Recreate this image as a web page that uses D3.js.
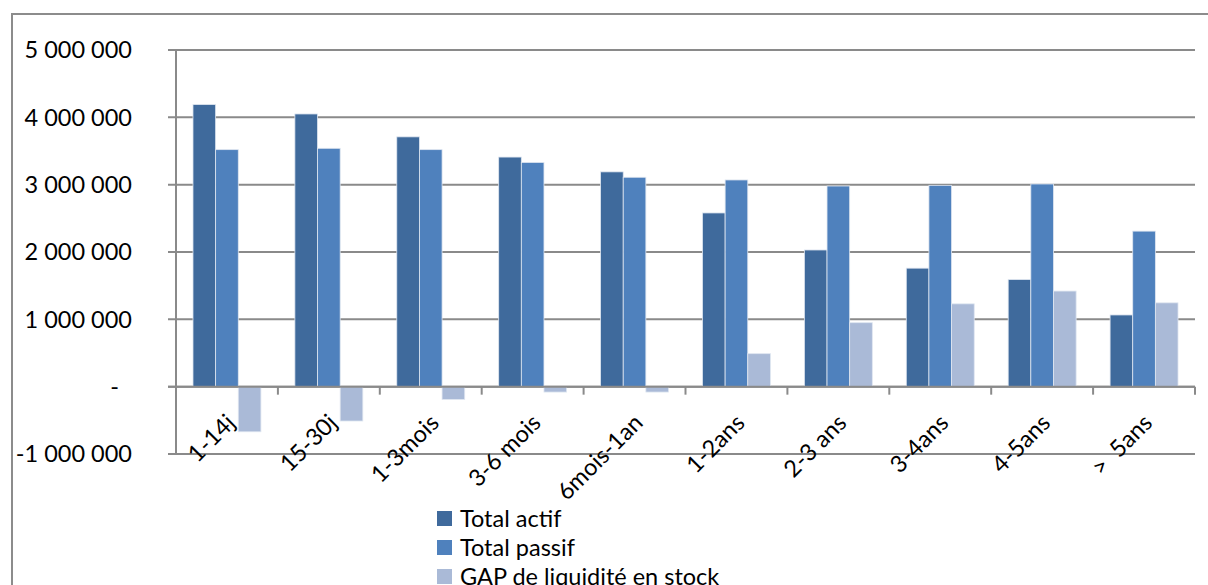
<!DOCTYPE html>
<html>
<head>
<meta charset="utf-8">
<script src="https://cdn.jsdelivr.net/npm/d3@7"></script>
<style>
  body { margin: 0; background: #fff; }
  svg { display: block; font-family: Lato, "Open Sans", sans-serif; }
</style>
</head>
<body>
<svg id="chart" width="1208" height="585"></svg>
<script>
// data
const categories = ["1-14j", "15-30j", "1-3mois", "3-6 mois", "6mois-1an", "1-2ans", "2-3 ans", "3-4ans", "4-5ans", ">  5ans"];
const totalActif = [4190000, 4050000, 3710000, 3410000, 3190000, 2580000, 2030000, 1760000, 1590000, 1065000];
const totalPassif = [3520000, 3540000, 3520000, 3330000, 3110000, 3070000, 2980000, 2990000, 3010000, 2310000];
const gapStock = [-670000, -510000, -190000, -80000, -80000, 490000, 950000, 1230000, 1420000, 1245000];
const seriesNames = ["Total actif", "Total passif", "GAP de liquidité en stock"];
const yTicks = [-1000000, 0, 1000000, 2000000, 3000000, 4000000, 5000000];

const colors = ["#3F6A9C", "#4F81BD", "#AABAD7"];
const series = [totalActif, totalPassif, gapStock];

const svg = d3.select("#chart");
const plotLeft = 176, plotRight = 1195, plotTop = 50, plotBottom = 454;

const fr = d3.formatLocale({ decimal: ",", thousands: " ", grouping: [3], currency: ["", " €"], minus: "-" });
const fmt = fr.format(",d");

const x = d3.scaleBand().domain(categories).range([plotLeft, plotRight]).paddingInner(0).paddingOuter(0);
const xs = d3.scaleBand().domain(d3.range(3)).range([0, x.bandwidth()]).paddingInner(0).paddingOuter(0.75);
const y = d3.scaleLinear().domain([-1000000, 5000000]).range([plotBottom, plotTop]);

// outer frame
svg.append("rect")
  .attr("x", 12).attr("y", 14).attr("width", 1230).attr("height", 600)
  .attr("fill", "none").attr("stroke", "#8c8c8c").attr("stroke-width", 2);

// gridlines
svg.append("g")
  .selectAll("line")
  .data(yTicks)
  .enter()
  .append("line")
  .attr("x1", plotLeft - 8).attr("x2", plotRight)
  .attr("y1", (d) => y(d)).attr("y2", (d) => y(d))
  .attr("stroke", "#8a8a8a").attr("stroke-width", 2);

// y labels
svg.append("g")
  .selectAll("text")
  .data(yTicks)
  .enter()
  .append("text")
  .attr("x", (d) => (d === 0 ? 119 : 132))
  .attr("y", (d) => y(d))
  .attr("dy", "0.35em")
  .attr("text-anchor", "end")
  .attr("font-size", 23.5)
  .attr("fill", "#000")
  .text((d) => (d === 0 ? "-" : fmt(d)));

// bars
const groups = svg.append("g")
  .selectAll("g")
  .data(series)
  .enter()
  .append("g")
  .attr("fill", (d, i) => colors[i]);

groups.each(function (vals, si) {
  d3.select(this)
    .selectAll("rect")
    .data(vals)
    .enter()
    .append("rect")
    .attr("x", (d, i) => x(categories[i]) + xs(si))
    .attr("width", xs.bandwidth())
    .attr("y", (d) => Math.min(y(d), y(0)))
    .attr("height", (d) => Math.abs(y(d) - y(0)))
    .attr("stroke", "#dfe6f0")
    .attr("stroke-width", 0.8);
});

// y axis line
svg.append("line")
  .attr("x1", plotLeft).attr("x2", plotLeft).attr("y1", plotTop).attr("y2", plotBottom)
  .attr("stroke", "#8a8a8a").attr("stroke-width", 2);

// x axis at zero
svg.append("line")
  .attr("x1", plotLeft - 8).attr("x2", plotRight).attr("y1", y(0)).attr("y2", y(0))
  .attr("stroke", "#8a8a8a").attr("stroke-width", 2);

// category ticks
const tickPos = categories.map((c) => x(c) + x.bandwidth()).concat([plotLeft]);
svg.append("g")
  .selectAll("line")
  .data(tickPos)
  .enter()
  .append("line")
  .attr("x1", (d) => d).attr("x2", (d) => d)
  .attr("y1", y(0)).attr("y2", y(0) + 8)
  .attr("stroke", "#8a8a8a").attr("stroke-width", 2);

// category labels
svg.append("g")
  .selectAll("text")
  .data(categories)
  .enter()
  .append("text")
  .attr("transform", (d) => "translate(" + (x(d) + x.bandwidth() / 2 - 2) + "," + (y(0) + 26) + ") rotate(-45)")
  .attr("text-anchor", "end")
  .attr("dy", "0.7em")
  .attr("font-size", 23.5)
  .attr("fill", "#000")
  .style("white-space", "pre")
  .text((d) => d);

// legend
const legend = svg.append("g")
  .selectAll("g")
  .data(seriesNames)
  .enter()
  .append("g")
  .attr("transform", (d, i) => "translate(437," + (511 + i * 29) + ")");

legend.append("rect")
  .attr("width", 15).attr("height", 15)
  .attr("fill", (d, i) => colors[i]);

legend.append("text")
  .attr("x", 23).attr("y", 7.5)
  .attr("dy", "0.36em")
  .attr("font-size", 23.5)
  .attr("fill", "#000")
  .text((d) => d);
</script>
</body>
</html>
